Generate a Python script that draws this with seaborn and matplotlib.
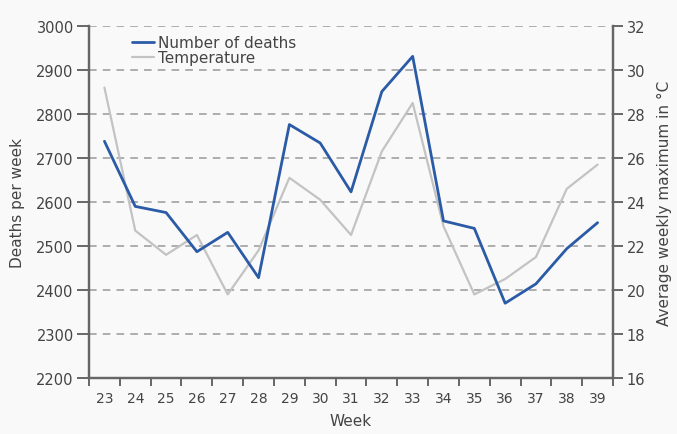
import matplotlib
matplotlib.use("Agg")
import matplotlib.pyplot as plt
import numpy as np
import pandas as pd
import seaborn as sns

# Data
weeks = [23, 24, 25, 26, 27, 28, 29, 30, 31, 32, 33, 34, 35, 36, 37, 38, 39]
deaths = [2738, 2590, 2576, 2487, 2531, 2428, 2776, 2734, 2623, 2851, 2931, 2557, 2540, 2370, 2414, 2494, 2553]
temperature = [29.2, 22.7, 21.6, 22.5, 19.8, 21.8, 25.1, 24.1, 22.5, 26.3, 28.5, 22.9, 19.8, 20.5, 21.5, 24.6, 25.7]

df = pd.DataFrame({"Week": weeks, "Deaths": deaths, "Temperature": temperature})

sns.set_style("ticks")
plt.rcParams['font.family'] = ['DejaVu Sans']

bg = "#f9f9f9"
blue = "#2b5ba6"
grey = "#c3c3c3"
txt = "#444444"
axcol = "#666666"

fig = plt.figure(figsize=(6.77, 4.35), dpi=100, facecolor=bg)
ax = fig.add_axes([0.1315, 0.1287, 0.774, 0.8093])
ax2 = ax.twinx()

# twin axes sits underneath and carries the background + dashed grid
ax2.set_zorder(ax.get_zorder() - 1)
ax2.patch.set_visible(True)
ax2.patch.set_facecolor(bg)
ax.patch.set_visible(False)
ax2.set_yticks(np.arange(16, 33, 2))
ax2.yaxis.grid(True, color="#999999", linestyle=(0, (5, 4)), linewidth=1.1)
ax2.set_axisbelow(True)

sns.lineplot(data=df, x="Week", y="Temperature", ax=ax2, color=grey, linewidth=1.6)
sns.lineplot(data=df, x="Week", y="Deaths", ax=ax, color=blue, linewidth=2.0)

ax.set_xlim(22.5, 39.5)
ax.set_ylim(2200, 3000)
ax2.set_ylim(16, 32)
ax.set_yticks(np.arange(2200, 3001, 100))

ax.set_xticks(weeks)
ax.set_xticks(np.arange(22.5, 40, 1), minor=True)
ax.tick_params(axis="x", which="major", bottom=False, length=0, pad=9, labelsize=10, labelcolor=txt)
ax.tick_params(axis="x", which="minor", bottom=True, length=6, width=1.4, color=axcol)
ax.tick_params(axis="y", which="major", left=True, length=9, width=1.4, color=axcol,
               labelsize=10.5, labelcolor=txt, pad=2)
ax2.tick_params(axis="y", which="major", right=True, length=7, width=1.4, color=axcol,
                labelsize=10.5, labelcolor=txt, pad=3)

for a in (ax, ax2):
    a.spines["top"].set_visible(False)
    for s in ("left", "right", "bottom"):
        a.spines[s].set_color(axcol)
        a.spines[s].set_linewidth(1.6)

ax.set_xlabel("Week", fontsize=11, color=txt, labelpad=6)
ax.set_ylabel("Deaths per week", fontsize=11, color=txt, labelpad=8)
ax2.set_ylabel("Average weekly maximum in °C", fontsize=11, color=txt, labelpad=8)

handles = [plt.Line2D([], [], color=blue, linewidth=2.0), plt.Line2D([], [], color=grey, linewidth=1.6)]
leg = ax.legend(handles, ["Number of deaths", "Temperature"], loc="upper left",
                bbox_to_anchor=(0.065, 1.0), frameon=False, fontsize=11,
                handlelength=1.4, handletextpad=0.3, labelspacing=0.0, borderaxespad=0.2)
for t in leg.get_texts():
    t.set_color(txt)

fig.savefig("out.png", dpi=100, facecolor=bg)
